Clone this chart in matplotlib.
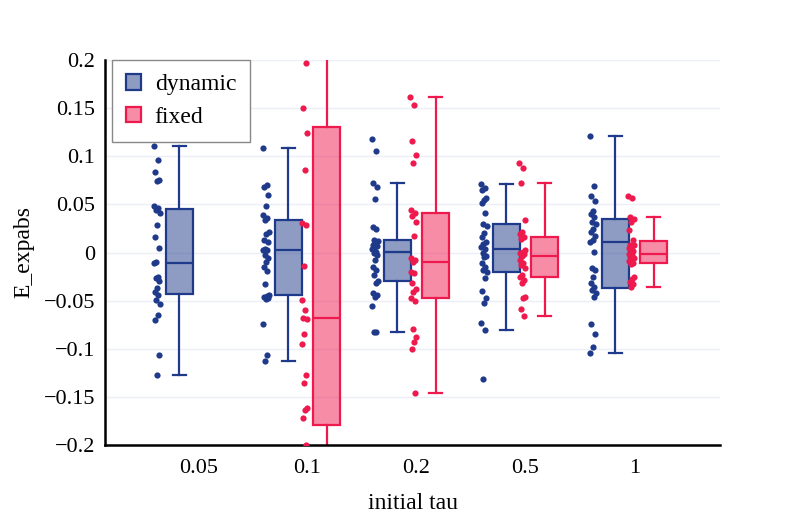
import matplotlib
matplotlib.use("Agg")
import matplotlib.pyplot as plt
from matplotlib.patches import Patch
from matplotlib.colors import to_rgba
import numpy as np

plt.rcParams['font.family'] = ['Liberation Serif', 'DejaVu Serif']
tickSize = 16
labelSize = 17

categories = ["0.05", "0.1", "0.2", "0.5", "1"]

dynamic_vals = [
    [0.111, 0.096, 0.084, 0.075, 0.074, 0.048, 0.046, 0.044, 0.041, 0.029, 0.016, 0.005, -0.010,
     -0.011, -0.025, -0.027, -0.030, -0.037, -0.041, -0.044, -0.049, -0.054, -0.065, -0.070,
     -0.106, -0.127],
    [0.109, 0.070, 0.068, 0.060, 0.048, 0.039, 0.036, 0.034, 0.021, 0.019, 0.013, 0.011, 0.004,
     0.003, 0.003, -0.003, -0.006, -0.010, -0.015, -0.019, -0.033, -0.044, -0.045, -0.046,
     -0.047, -0.048, -0.074, -0.106, -0.113],
    [0.1176, 0.105, 0.0726, 0.0684, 0.0556, 0.0261, 0.0241, 0.013, 0.012, 0.0113, 0.008, 0.0068,
     0.005, 0.0033, 0.001, -0.0009, -0.0026, -0.0078, -0.0154, -0.0182, -0.0234, -0.0293,
     -0.0313, -0.0417, -0.0442, -0.0466, -0.0556, -0.0823, -0.083],
    [0.0708, 0.0674, 0.0649, 0.0563, 0.0545, 0.0511, 0.0407, 0.0296, 0.0275, 0.0199, 0.0165,
     0.0113, 0.0088, 0.0061, 0.0033, -0.0009, -0.0036, -0.005, -0.0113, -0.0147, -0.0182,
     -0.0199, -0.0261, -0.0396, -0.0476, -0.0521, -0.0736, -0.0805, -0.1318],
    [0.1214, 0.0693, 0.059, 0.0535, 0.0431, 0.0397, 0.0372, 0.0314, 0.0293, 0.0244, 0.021,
     0.0175, 0.013, 0.0113, 0.0009, -0.0165, -0.0182, -0.0251, -0.032, -0.0355, -0.039, -0.0424,
     -0.0459, -0.0743, -0.085, -0.0978, -0.1048],
]

# no "fixed" run for 0.05
fixed_vals = [
    [],
    [0.37, 0.33, 0.30, 0.27, 0.24, 0.21, 0.197, 0.150, 0.124, 0.086, 0.031, 0.029, -0.014,
     -0.049, -0.060, -0.068, -0.069, -0.085, -0.095, -0.127, -0.136, -0.162, -0.164, -0.172,
     -0.200, -0.21, -0.23, -0.25, -0.27, -0.30, -0.33, -0.36],
    [0.1612, 0.1532, 0.1162, 0.1013, 0.0926, 0.0442, 0.0414, 0.0379, 0.032, 0.0171, -0.0061,
     -0.0078, -0.0095, -0.0199, -0.021, -0.032, -0.0383, -0.0407, -0.0476, -0.05, -0.0798,
     -0.0874, -0.0926, -0.1006, -0.1456],
    [0.0933, 0.0874, 0.0719, 0.0338, 0.0216, 0.0192, 0.0165, 0.0137, 0.0026, 0.0009, -0.0009,
     -0.002, -0.0036, -0.0078, -0.0113, -0.013, -0.0165, -0.0234, -0.0258, -0.0286, -0.0313,
     -0.0466, -0.0476, -0.059, -0.066],
    [0.059, 0.057, 0.0372, 0.0348, 0.032, 0.0234, 0.013, 0.008, 0.0078, 0.007, 0.005, 0.0016,
     -0.0009, -0.002, -0.0026, -0.004, -0.0054, -0.008, -0.0088, -0.0113, -0.012, -0.0251,
     -0.0275, -0.0303, -0.0331, -0.0355],
]

yticks = [-0.2, -0.15, -0.1, -0.05, 0, 0.05, 0.1, 0.15, 0.2]
ytick_labels = ["\u22120.2", "\u22120.15", "\u22120.1", "\u22120.05", "0", "0.05", "0.1", "0.15", "0.2"]

dynColor = '#1f3a8a'
fixColor = '#ee1a4e'

fig = plt.figure(figsize=(8, 5.25), dpi=100)
ax = fig.add_axes([105 / 800, 80 / 525, 615 / 800, 385 / 525])

boxOffset = 0.176
boxWidth = 0.245
pointShift = -0.205
jitterWidth = 0.028


def draw_group(values, xpos, color):
    fill = to_rgba(color, 0.5)
    ax.boxplot(values, positions=[xpos], widths=boxWidth, patch_artist=True,
               showfliers=False, whis=1.5, manage_ticks=False,
               boxprops=dict(facecolor=fill, edgecolor=color, linewidth=1.6),
               medianprops=dict(color=color, linewidth=1.6),
               whiskerprops=dict(color=color, linewidth=1.6),
               capprops=dict(color=color, linewidth=1.6),
               zorder=2)
    n = len(values)
    # deterministic spread of the points beside the box
    spread = np.array([((i * 0.618034) % 1.0) * 2 - 1 for i in range(n)])
    xs = xpos + pointShift + spread * jitterWidth
    ax.scatter(xs, values, s=20, color=color, linewidths=0, zorder=3)


for i, cat in enumerate(categories):
    if len(dynamic_vals[i]) > 0:
        draw_group(dynamic_vals[i], i - boxOffset, dynColor)
    if len(fixed_vals[i]) > 0:
        draw_group(fixed_vals[i], i + boxOffset, fixColor)

ax.set_xlim(-0.858, 4.784)
ax.set_ylim(-0.2, 0.2)
ax.set_xticks(range(len(categories)))
ax.set_xticklabels(categories, fontsize=tickSize)
ax.set_yticks(yticks)
ax.set_yticklabels(ytick_labels, fontsize=tickSize)
ax.tick_params(axis='both', length=0)
ax.tick_params(axis='x', pad=10)
ax.tick_params(axis='y', pad=7)

ax.yaxis.grid(True, color='#ebeff8', linewidth=1.0)
ax.set_axisbelow(True)
for s in ['top', 'right']:
    ax.spines[s].set_visible(False)
for s in ['left', 'bottom']:
    ax.spines[s].set_linewidth(1.8)
    ax.spines[s].set_color('black')

ax.set_xlabel("initial tau", fontsize=labelSize)
ax.set_ylabel("E_expabs", fontsize=labelSize)
ax.xaxis.set_label_coords(0.5, -0.125)
ax.yaxis.set_label_coords(-0.115, 0.5)

handles = [Patch(facecolor=to_rgba(dynColor, 0.5), edgecolor=dynColor, linewidth=1.6, label='dynamic'),
           Patch(facecolor=to_rgba(fixColor, 0.5), edgecolor=fixColor, linewidth=1.6, label='fixed')]
leg = ax.legend(handles=handles, loc='upper left', bbox_to_anchor=(0.011, 1.0), borderaxespad=0,
                fontsize=labelSize, fancybox=False, framealpha=1, edgecolor='#888888',
                handlelength=0.62, handleheight=0.62, handletextpad=0.6, labelspacing=0.5,
                borderpad=0.6)
leg.get_frame().set_linewidth(1.0)

fig.savefig("out.png", dpi=100)
